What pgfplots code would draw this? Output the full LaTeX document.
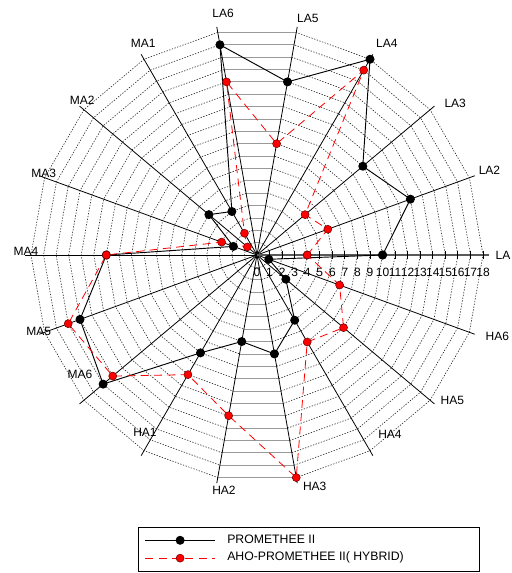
\documentclass[border=0pt]{standalone}
\usepackage{pgfplots}
\pgfplotsset{compat=1.18}
\usepackage{pgfplotstable}
\usepgfplotslibrary{polar}
\usepackage{fontspec}
\setmainfont{Liberation Sans}

\pgfplotstableread{
angle prom aho
0 10 4
20 13 6
40 11 5
60 18 17
80 14 9
100 17 14
120 4 2
140 5 1
160 2 3
180 12 12
200 15 16
220 16 15
240 9 11
260 7 13
280 8 18
300 6 8
320 3 9
340 1 7
360 10 4
}\datatable

\begin{document}
\begin{tikzpicture}[font=\fontsize{9}{10.8}\selectfont]
\begin{polaraxis}[
  hide axis,
  scale only axis,
  width=339pt, height=339pt,
  ymin=0, ymax=18,
  clip=false,
  legend style={at={(axis description cs:0.2367,-0.1018)}, anchor=north west,
    draw=black, line width=0.5pt, fill=white, inner xsep=5pt, inner ysep=3pt,
    font=\fontsize{9.2}{11}\selectfont, row sep=0pt,
    nodes={text height=6.6pt, text depth=2.4pt, inner ysep=2.2pt, inner xsep=9pt}},
  legend cell align=left,
  legend image code/.code={\draw[mark repeat=2,mark phase=2,#1] plot coordinates {(0pt,0pt) (26pt,0pt) (52pt,0pt)};},
]
\coordinate (O) at (axis cs:0,0);
% polygon grid (dotted), horizontal chords look solid
\pgfplotsinvokeforeach{1,...,18}{
  \addplot[black!85, line width=0.45pt, dash pattern=on 1pt off 1.1pt, forget plot] coordinates {(280,#1) (300,#1) (320,#1) (340,#1) (360,#1) (20,#1) (40,#1) (60,#1) (80,#1)};
  \addplot[black!85, line width=0.45pt, dash pattern=on 1pt off 1.1pt, forget plot] coordinates {(100,#1) (120,#1) (140,#1) (160,#1) (180,#1) (200,#1) (220,#1) (240,#1) (260,#1)};
  \addplot[black!40, line width=0.6pt, forget plot] coordinates {(80,#1) (100,#1)};
  \addplot[black!40, line width=0.6pt, forget plot] coordinates {(260,#1) (280,#1)};
}
% spokes
\pgfplotsinvokeforeach{20,40,...,340}{
  \addplot[black, line width=0.6pt, forget plot] coordinates {(#1,0) (#1,18.45)};
}
\addplot[black!65, line width=1pt, forget plot] coordinates {(0,0) (0,18.45)};
\addplot[black, only marks, mark=|, mark size=3pt, mark options={line width=0.6pt}, forget plot] coordinates {(0,1) (0,2) (0,3) (0,4) (0,5) (0,6) (0,7) (0,8) (0,9) (0,10) (0,11) (0,12) (0,13) (0,14) (0,15) (0,16) (0,17) (0,18)};
\pgfplotsinvokeforeach{0,...,18}{
  \node[inner sep=0pt, anchor=center] at (axis cs:0,#1) [yshift=-12.75pt] {#1};
}
% data
\addplot[black, line width=0.7pt, mark=*, mark size=3pt, mark options={fill=black}] table[x=angle, y=prom] {\datatable};
\addlegendentry{PROMETHEE II}
\addplot[red, line width=0.6pt, dash pattern=on 6pt off 4pt, mark=*, mark size=3pt, mark options={solid, fill=red, draw=red!45!black, line width=0.4pt}] table[x=angle, y=aho] {\datatable};
\addlegendentry{\hbox to 175pt{AHO-PROMETHEE II( HYBRID)\hfil}}
% category labels
\node[anchor=west, inner sep=0pt] at (axis cs:0,18.98) {LA};
\node at (axis cs:20,19.7) {LA2};
\node at (axis cs:37.5,19.9) {LA3};
\node at (axis cs:58.5,19.8) {LA4};
\node at (axis cs:77.9,19.3) {LA5};
\node at (axis cs:98,19.4) {LA6};
\node at (axis cs:118.3,19.1) {MA1};
\node at (axis cs:138.5,18.6) {MA2};
\node at (axis cs:159,18.2) {MA3};
\node at (axis cs:179,18.4) {MA4};
\node at (axis cs:199.2,18.4) {MA5};
\node at (axis cs:214,17.0) {MA6};
\node at (axis cs:237.7,16.7) {HA1};
\node at (axis cs:262,18.9) {HA2};
\node at (axis cs:284,19.0) {HA3};
\node at (axis cs:306.5,17.8) {HA4};
\node at (axis cs:323.3,19.4) {HA5};
\node at (axis cs:341.4,20.2) {HA6};
\end{polaraxis}
\pgfresetboundingbox
\path[use as bounding box] (O) ++(-192.75pt,191.25pt) rectangle ++(383.25pt,-429.75pt);
\end{tikzpicture}
\end{document}
